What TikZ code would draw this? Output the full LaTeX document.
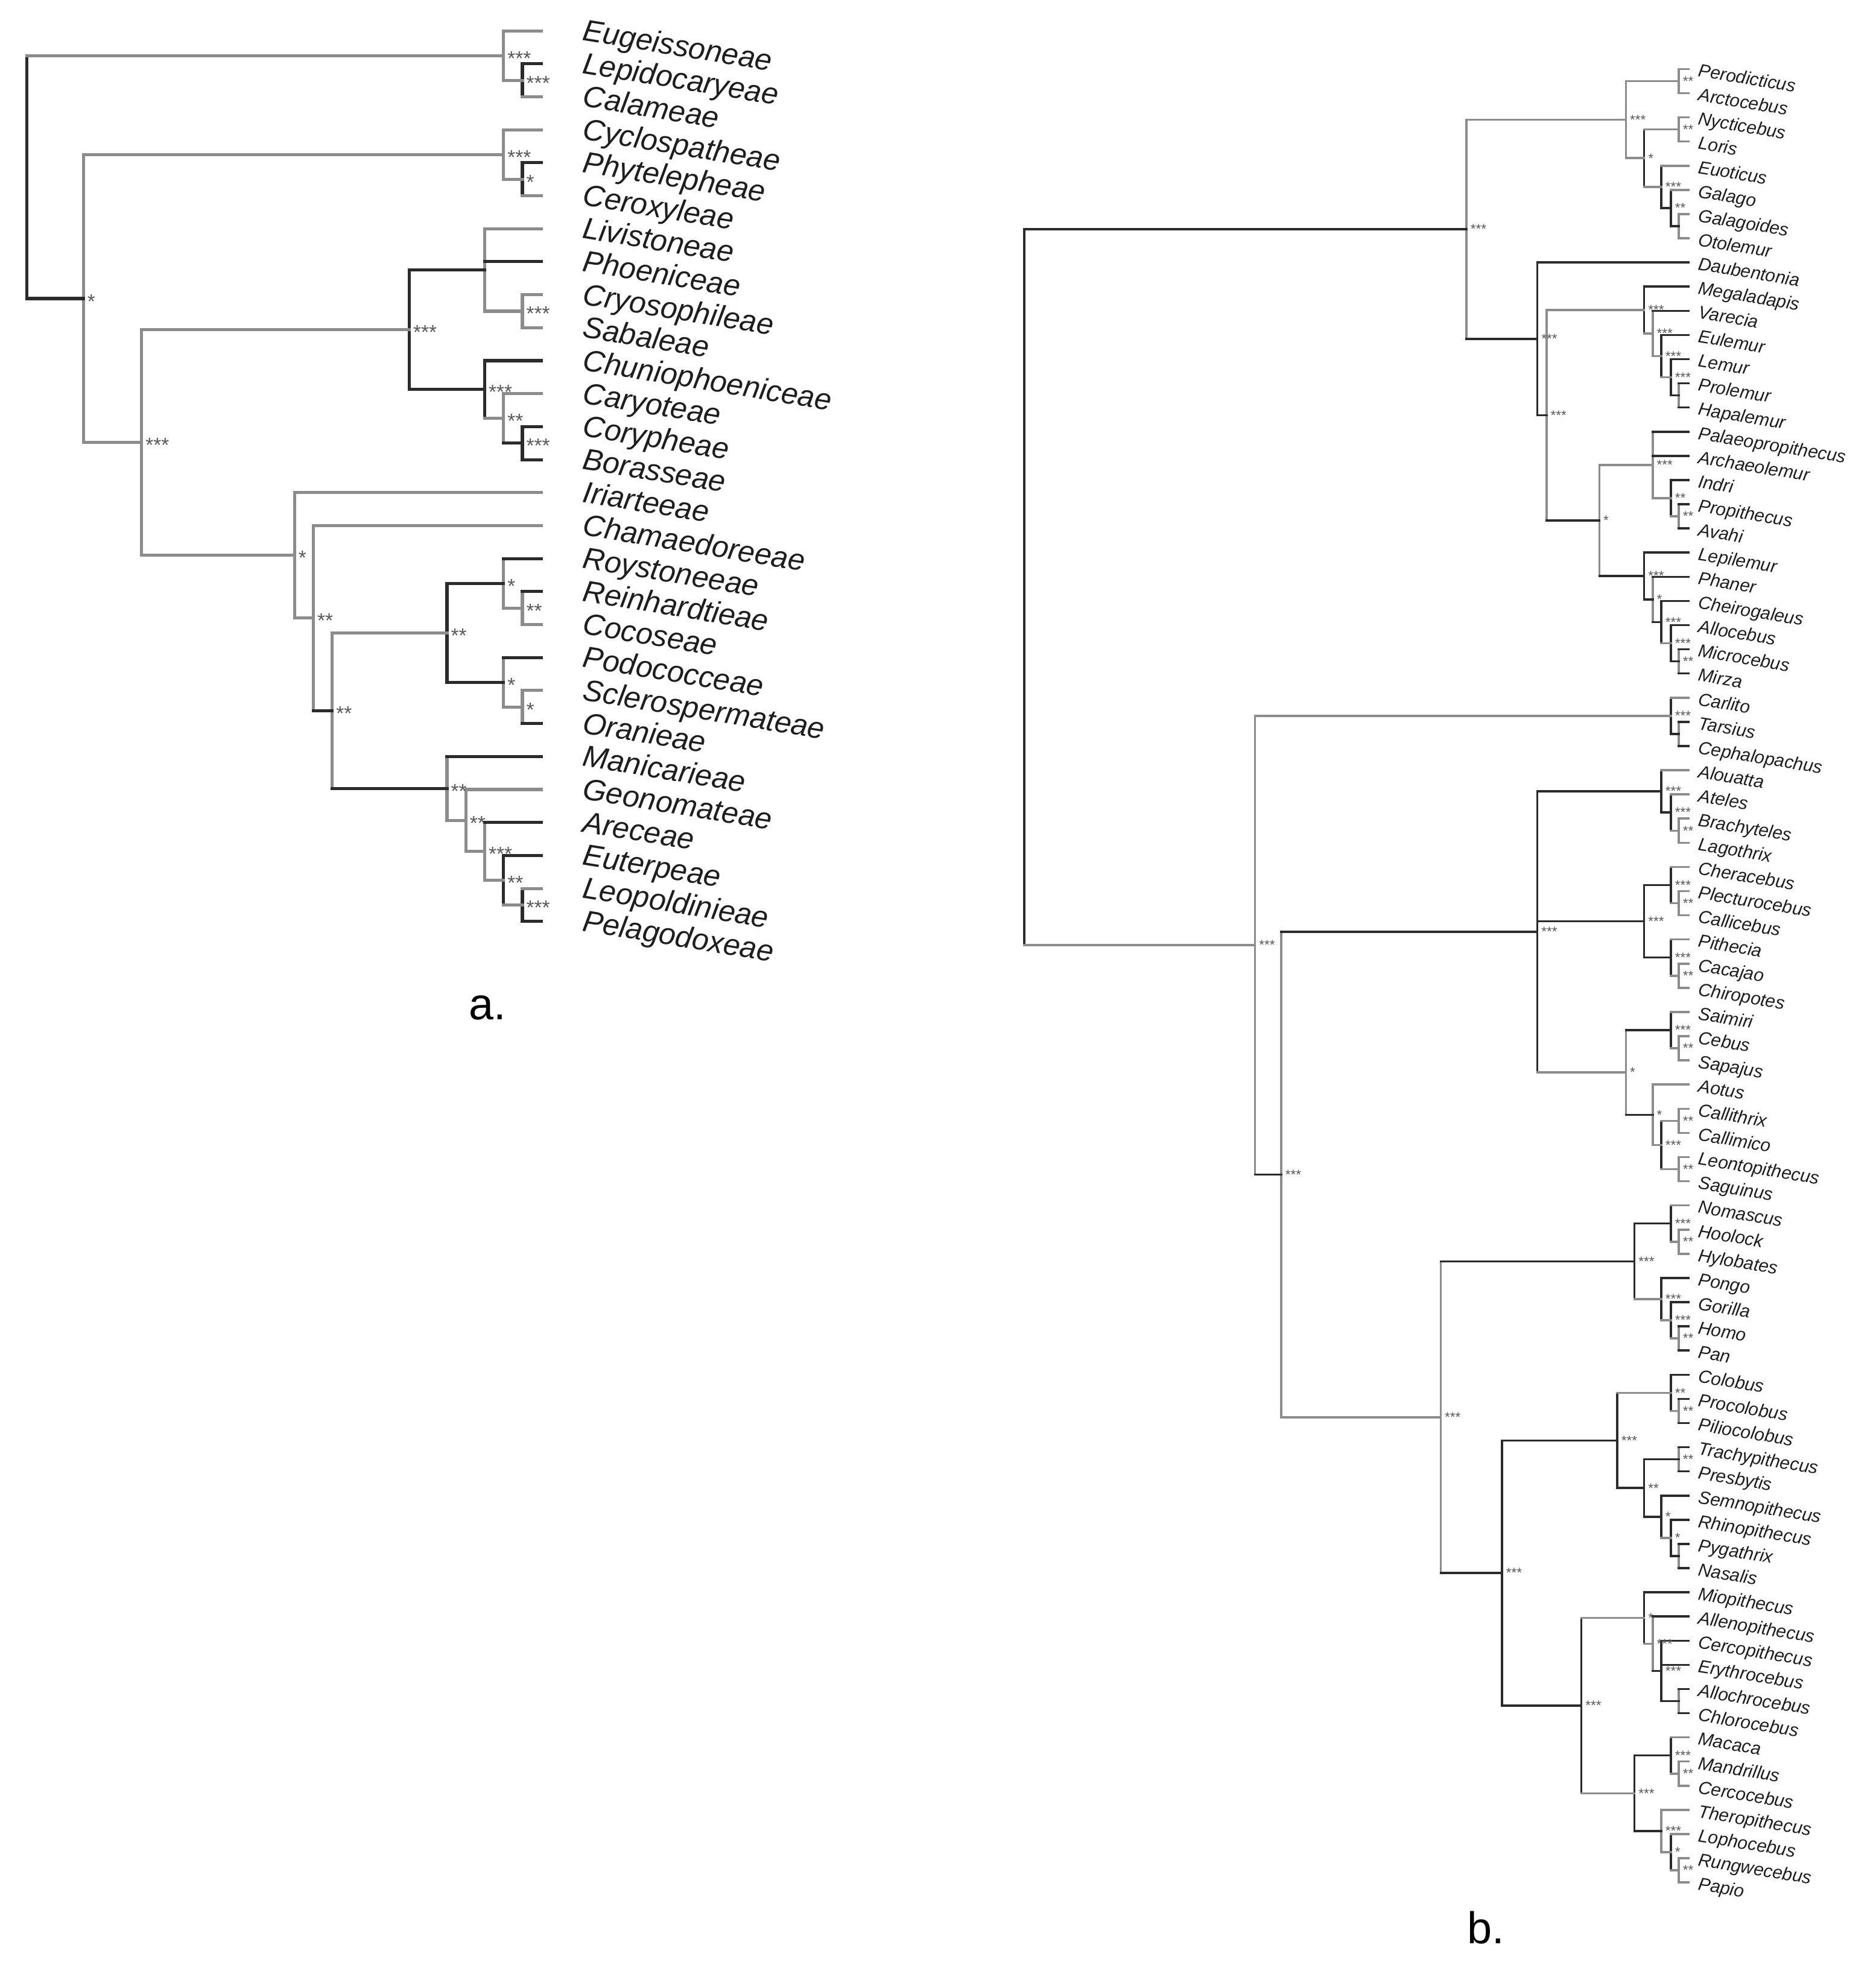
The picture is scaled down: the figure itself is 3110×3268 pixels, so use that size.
\documentclass[tikz,border=0pt]{standalone}
\usepackage{fontspec}
\setmainfont{Liberation Sans}
\usetikzlibrary{calc}

\definecolor{brgray}{HTML}{8C8C8C}
\definecolor{brdark}{HTML}{2B2B2B}
\definecolor{taxcol}{HTML}{1E1E1E}
\definecolor{supcol}{HTML}{595959}

% clade: [bar style]{name}{x}{first child}{last child}
\newcommand\clade[5][kline]{%
  \path let \p1=($(#4)!.5!(#5)$) in coordinate (#2) at ([yshift=\y1]#3,0);
  \draw[#1] (#2 |- #4) -- (#2 |- #5);}

\begin{document}
\begin{tikzpicture}[x=0.01cm, y=-0.01cm,
gline/.style={draw=brgray, line cap=rect},
kline/.style={draw=brdark, line cap=rect},
taxa/.style={anchor=base west, inner sep=0pt, rotate=-9.3, text=taxcol, font=\fontsize{14.2}{16}\selectfont\itshape},
taxb/.style={anchor=base west, inner sep=0pt, rotate=-9.3, text=taxcol, font=\fontsize{8.5}{10}\selectfont\itshape},
supa/.style={anchor=base west, inner sep=0pt, text=supcol, font=\fontsize{9.5}{10}\selectfont, xshift=0.04cm, yshift=-0.16cm},
supb/.style={anchor=base west, inner sep=0pt, text=supcol, font=\fontsize{6.4}{7}\selectfont, xshift=0.05cm, yshift=-0.078cm},
panel/.style={anchor=base west, inner sep=0pt, font=\fontsize{21}{24}\selectfont},
]
\useasboundingbox (0,0) rectangle (3110,3268);
\fill[white] (0,0) rectangle (3110,3268);

%%% a. palms
\begin{scope}[line width=1.45pt]
%Leaves
\foreach \nm [count=\i from 0] in {Eugeissoneae,Lepidocaryeae,Calameae,Cyclospatheae,Phytelepheae,Ceroxyleae,Livistoneae,Phoeniceae,Cryosophileae,Sabaleae,Chuniophoeniceae,Caryoteae,Corypheae,Borasseae,Iriarteeae,Chamaedoreeae,Roystoneeae,Reinhardtieae,Cocoseae,Podococceae,Sclerospermateae,Oranieae,Manicarieae,Geonomateae,Areceae,Euterpeae,Leopoldinieae,Pelagodoxeae}{
  \coordinate (\nm) at (897,{51.1+54.69*\i});
  \node[taxa] (\nm-lab) at ($(\nm)+(65,15)$) {\nm};
}
%Clades
\clade{a1}{866}{Lepidocaryeae}{Calameae}
\clade[gline]{a2}{834.8}{Eugeissoneae}{a1}
\clade{a3}{866}{Phytelepheae}{Ceroxyleae}
\clade[gline]{a4}{834.8}{Cyclospatheae}{a3}
\clade[gline]{a5}{866}{Cryosophileae}{Sabaleae}
\clade[gline]{a6}{803.6}{Livistoneae}{a5}
\clade{a7}{866}{Corypheae}{Borasseae}
\clade[gline]{a8}{834.8}{Caryoteae}{a7}
\clade{a9}{803.6}{Chuniophoeniceae}{a8}
\clade{a10}{678.6}{a6}{a9}
\clade[gline]{a11}{866}{Reinhardtieae}{Cocoseae}
\clade[gline]{a12}{834.8}{Roystoneeae}{a11}
\clade[gline]{a13}{866}{Sclerospermateae}{Oranieae}
\clade[gline]{a14}{834.8}{Podococceae}{a13}
\clade{a15}{741}{a12}{a14}
\clade{a16}{866}{Leopoldinieae}{Pelagodoxeae}
\clade{a17}{834.8}{Euterpeae}{a16}
\clade[gline]{a18}{803.6}{Areceae}{a17}
\clade[gline]{a19}{772.3}{Geonomateae}{a18}
\clade[gline]{a20}{741}{Manicarieae}{a19}
\clade[gline]{a21}{550.9}{a15}{a20}
\clade[gline]{a22}{519.6}{Chamaedoreeae}{a21}
\clade[gline]{a23}{488.4}{Iriarteeae}{a22}
\clade[gline]{a24}{234.8}{a10}{a23}
\clade[gline]{a25}{138.4}{a4}{a24}
\clade{a26}{44.6}{a2}{a25}
%Lines
\foreach \pa/\ch in {a26/a2,a2/Eugeissoneae,a2/a1,a1/Calameae,a25/a4,a25/a24,a4/Cyclospatheae,a4/a3,a3/Ceroxyleae,a24/a10,a24/a23,a6/Livistoneae,a6/a5,a5/Cryosophileae,a5/Sabaleae,a9/a8,a8/Caryoteae,a23/Iriarteeae,a23/a22,a22/Chamaedoreeae,a21/a15,a12/a11,a11/Cocoseae,a14/a13,a13/Sclerospermateae,a20/a19,a19/Geonomateae,a19/a18,a18/a17,a17/a16,a16/Leopoldinieae}
  \draw[gline] (\pa |- \ch) -- (\ch);
\foreach \pa/\ch in {a26/a25,a1/Lepidocaryeae,a3/Phytelepheae,a10/a6,a10/a9,a6/Phoeniceae,a9/Chuniophoeniceae,a8/a7,a7/Corypheae,a7/Borasseae,a22/a21,a21/a20,a15/a12,a15/a14,a12/Roystoneeae,a11/Reinhardtieae,a14/Podococceae,a13/Oranieae,a20/Manicarieae,a18/Areceae,a17/Euterpeae,a16/Pelagodoxeae}
  \draw[kline] (\pa |- \ch) -- (\ch);
%Support
\foreach \cl/\sv in {a1/***,a2/***,a3/*,a4/***,a5/***,a7/***,a8/**,a9/***,a10/***,a11/**,a12/*,a13/*,a14/*,a15/**,a16/***,a17/**,a18/***,a19/**,a20/**,a21/**,a22/**,a23/*,a24/***,a25/*}
  \node[supa] (\cl-s) at (\cl) {\sv};
\end{scope}
\node[panel] (pa) at (777,1690) {a.};

%%% b. primates
\begin{scope}[line width=1pt]
%Leaves
\foreach \nm [count=\i from 0] in {Perodicticus,Arctocebus,Nycticebus,Loris,Euoticus,Galago,Galagoides,Otolemur,Daubentonia,Megaladapis,Varecia,Eulemur,Lemur,Prolemur,Hapalemur,Palaeopropithecus,Archaeolemur,Indri,Propithecus,Avahi,Lepilemur,Phaner,Cheirogaleus,Allocebus,Microcebus,Mirza,Carlito,Tarsius,Cephalopachus,Alouatta,Ateles,Brachyteles,Lagothrix,Cheracebus,Plecturocebus,Callicebus,Pithecia,Cacajao,Chiropotes,Saimiri,Cebus,Sapajus,Aotus,Callithrix,Callimico,Leontopithecus,Saguinus,Nomascus,Hoolock,Hylobates,Pongo,Gorilla,Homo,Pan,Colobus,Procolobus,Piliocolobus,Trachypithecus,Presbytis,Semnopithecus,Rhinopithecus,Pygathrix,Nasalis,Miopithecus,Allenopithecus,Cercopithecus,Erythrocebus,Allochrocebus,Chlorocebus,Macaca,Mandrillus,Cercocebus,Theropithecus,Lophocebus,Rungwecebus,Papio}{
  \coordinate (\nm) at (2799.6,{114.4+40.09*\i});
  \node[taxb] (\nm-lab) at ($(\nm)+(13,12)$) {\nm};
}
%Clades
\clade[gline]{b1}{2783}{Perodicticus}{Arctocebus}
\clade[gline]{b2}{2783}{Nycticebus}{Loris}
\clade[gline]{b3}{2783}{Galagoides}{Otolemur}
\clade{b4}{2770}{Galago}{b3}
\clade{b5}{2754.2}{Euoticus}{b4}
\clade{b6}{2725.5}{b2}{b5}
\clade[gline]{b7}{2695.3}{b1}{b6}
\clade[gline]{b8}{2783}{Prolemur}{Hapalemur}
\clade{b9}{2770}{Lemur}{b8}
\clade{b10}{2754.2}{Eulemur}{b9}
\clade[gline]{b11}{2739.8}{Varecia}{b10}
\clade{b12}{2725.5}{Megaladapis}{b11}
\clade[gline]{b13}{2783}{Propithecus}{Avahi}
\clade{b14}{2770}{Indri}{b13}
\clade[gline]{b15}{2739.8}{Palaeopropithecus}{b14}
\clade[gline]{b16}{2783}{Microcebus}{Mirza}
\clade{b17}{2770}{Allocebus}{b16}
\clade{b18}{2754.2}{Cheirogaleus}{b17}
\clade[gline]{b19}{2739.8}{Phaner}{b18}
\clade{b20}{2725.5}{Lepilemur}{b19}
\clade[gline]{b21}{2651.3}{b15}{b20}
\clade[gline]{b22}{2563.8}{b12}{b21}
\clade{b23}{2548.5}{Daubentonia}{b22}
\clade[gline]{b24}{2431}{b7}{b23}
\clade[gline]{b25}{2783}{Tarsius}{Cephalopachus}
\clade{b26}{2770}{Carlito}{b25}
\clade[gline]{b27}{2783}{Brachyteles}{Lagothrix}
\clade{b28}{2770}{Ateles}{b27}
\clade{b29}{2754.2}{Alouatta}{b28}
\clade[gline]{b30}{2783}{Plecturocebus}{Callicebus}
\clade{b31}{2770}{Cheracebus}{b30}
\clade[gline]{b32}{2783}{Cacajao}{Chiropotes}
\clade{b33}{2770}{Pithecia}{b32}
\clade{b34}{2725.5}{b31}{b33}
\clade[gline]{b35}{2783}{Cebus}{Sapajus}
\clade{b36}{2770}{Saimiri}{b35}
\clade[gline]{b37}{2783}{Callithrix}{Callimico}
\clade[gline]{b38}{2783}{Leontopithecus}{Saguinus}
\clade{b39}{2754.2}{b37}{b38}
\clade[gline]{b40}{2739.8}{Aotus}{b39}
\clade[gline]{b41}{2695.3}{b36}{b40}
\clade{b42}{2548.5}{b29}{b41}
\clade[gline]{b43}{2783}{Hoolock}{Hylobates}
\clade{b44}{2770}{Nomascus}{b43}
\clade[gline]{b45}{2783}{Homo}{Pan}
\clade{b46}{2770}{Gorilla}{b45}
\clade{b47}{2754.2}{Pongo}{b46}
\clade{b48}{2709.7}{b44}{b47}
\clade[gline]{b49}{2783}{Procolobus}{Piliocolobus}
\clade{b50}{2770}{Colobus}{b49}
\clade[gline]{b51}{2783}{Trachypithecus}{Presbytis}
\clade[gline]{b52}{2783}{Pygathrix}{Nasalis}
\clade{b53}{2770}{Rhinopithecus}{b52}
\clade{b54}{2754.2}{Semnopithecus}{b53}
\clade{b55}{2725.5}{b51}{b54}
\clade{b56}{2681}{b50}{b55}
\clade[gline]{b57}{2783}{Allochrocebus}{Chlorocebus}
\clade{b58}{2754.2}{Cercopithecus}{b57}
\clade[gline]{b59}{2739.8}{Allenopithecus}{b58}
\clade{b60}{2725.5}{Miopithecus}{b59}
\clade[gline]{b61}{2783}{Mandrillus}{Cercocebus}
\clade{b62}{2770}{Macaca}{b61}
\clade[gline]{b63}{2783}{Rungwecebus}{Papio}
\clade{b64}{2770}{Lophocebus}{b63}
\clade[gline]{b65}{2754.2}{Theropithecus}{b64}
\clade{b66}{2709.7}{b62}{b65}
\clade{b67}{2621.7}{b60}{b66}
\clade{b68}{2490}{b56}{b67}
\clade[gline]{b69}{2388.3}{b48}{b68}
\clade[gline]{b70}{2124}{b42}{b69}
\clade[gline]{b71}{2080.5}{b26}{b70}
\clade{b72}{1698}{b24}{b71}
%Lines
\foreach \pa/\ch in {b72/b71,b24/b7,b7/b1,b7/b6,b1/Perodicticus,b1/Arctocebus,b6/b2,b6/b5,b2/Nycticebus,b2/Loris,b5/Euoticus,b4/Galago,b3/Galagoides,b3/Otolemur,b22/b12,b12/b11,b11/b10,b10/b9,b21/b15,b15/b14,b14/b13,b18/b17,b71/b26,b26/Carlito,b70/b69,b42/b41,b29/Alouatta,b28/Ateles,b28/b27,b27/Brachyteles,b27/Lagothrix,b31/Cheracebus,b31/b30,b30/Plecturocebus,b30/Callicebus,b33/Pithecia,b33/b32,b32/Cacajao,b32/Chiropotes,b36/Saimiri,b36/b35,b35/Cebus,b35/Sapajus,b40/Aotus,b40/b39,b39/b37,b39/b38,b37/Callithrix,b37/Callimico,b38/Leontopithecus,b38/Saguinus,b48/b47,b44/Nomascus,b44/b43,b43/Hoolock,b43/Hylobates,b47/b46,b46/b45,b56/b50,b50/b49,b54/b53,b67/b60,b67/b66,b60/b59,b62/Macaca,b62/b61,b61/Mandrillus,b61/Cercocebus,b65/Theropithecus,b65/b64,b64/Lophocebus,b64/b63,b63/Rungwecebus,b63/Papio}
  \draw[gline] (\pa |- \ch) -- (\ch);
\foreach \pa/\ch in {b72/b24,b24/b23,b5/b4,b4/b3,b23/Daubentonia,b23/b22,b22/b21,b12/Megaladapis,b11/Varecia,b10/Eulemur,b9/Lemur,b9/b8,b8/Prolemur,b8/Hapalemur,b21/b20,b15/Palaeopropithecus,b15/Archaeolemur,b14/Indri,b13/Propithecus,b13/Avahi,b20/Lepilemur,b20/b19,b19/Phaner,b19/b18,b18/Cheirogaleus,b17/Allocebus,b17/b16,b16/Microcebus,b16/Mirza,b71/b70,b26/b25,b25/Tarsius,b25/Cephalopachus,b70/b42,b42/b29,b42/b34,b29/b28,b34/b31,b34/b33,b41/b36,b41/b40,b69/b48,b69/b68,b48/b44,b47/Pongo,b46/Gorilla,b45/Homo,b45/Pan,b68/b56,b68/b67,b50/Colobus,b49/Procolobus,b49/Piliocolobus,b56/b55,b55/b51,b55/b54,b51/Trachypithecus,b51/Presbytis,b54/Semnopithecus,b53/Rhinopithecus,b53/b52,b52/Pygathrix,b52/Nasalis,b66/b62,b66/b65,b60/Miopithecus,b59/Allenopithecus,b59/b58,b58/Cercopithecus,b58/Erythrocebus,b58/b57,b57/Allochrocebus,b57/Chlorocebus}
  \draw[kline] (\pa |- \ch) -- (\ch);
%Support
\foreach \cl/\sv in {b1/**,b2/**,b4/**,b5/***,b6/*,b7/***,b9/***,b10/***,b11/***,b12/***,b13/**,b14/**,b15/***,b16/**,b17/***,b18/***,b19/*,b20/***,b21/*,b22/***,b23/***,b24/***,b26/***,b27/**,b28/***,b29/***,b30/**,b31/***,b32/**,b33/***,b34/***,b35/**,b36/***,b37/**,b38/**,b39/***,b40/*,b41/*,b42/***,b43/**,b44/***,b45/**,b46/***,b47/***,b48/***,b49/**,b50/**,b51/**,b53/*,b54/*,b55/**,b56/***,b58/***,b59/***,b60/*,b61/**,b62/***,b63/**,b64/*,b65/***,b66/***,b67/***,b68/***,b69/***,b70/***,b71/***}
  \node[supb] (\cl-s) at (\cl) {\sv};
\end{scope}
\node[panel] (pb) at (2432,3222) {b.};
\end{tikzpicture}
\end{document}
